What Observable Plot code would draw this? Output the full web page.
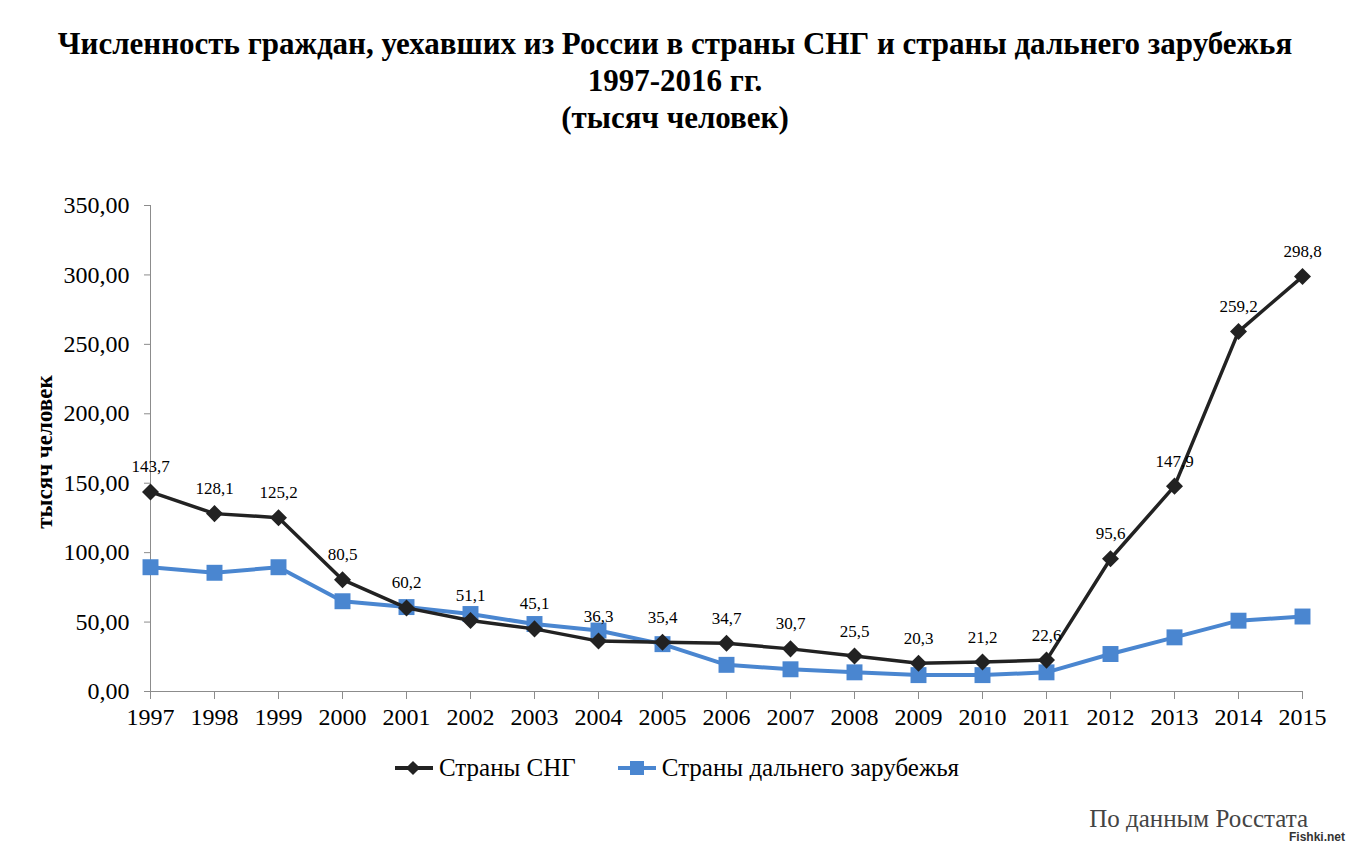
<!DOCTYPE html>
<html>
<head>
<meta charset="utf-8">
<script src="https://cdn.jsdelivr.net/npm/d3@7"></script>
<script src="https://cdn.jsdelivr.net/npm/@observablehq/plot@0.6"></script>
<style>
  html, body { margin: 0; padding: 0; background: #fff; }
  #root { position: relative; width: 1350px; height: 850px; font-family: "Liberation Serif", "Times New Roman", serif; color: #000; overflow: hidden; }
  .title { position: absolute; left: 0; width: 1350px; text-align: center; font-weight: bold; font-size: 31px; line-height: 1; }
  #chart { position: absolute; left: 0; top: 180px; }
  #chart svg, #chart svg text { font-family: "Liberation Serif", "Times New Roman", serif !important; }
  #ylabel { position: absolute; left: 45px; top: 452px; transform: translate(-50%, -50%) rotate(-90deg); font-weight: bold; font-size: 23px; white-space: nowrap; }
  #legend { position: absolute; top: 753px; left: 395px; display: flex; align-items: center; font-size: 25px; white-space: nowrap; }
  #legend .item { display: flex; align-items: center; margin-right: 42px; }
  #legend svg { margin-right: 6px; }
  #caption { position: absolute; right: 42px; top: 805px; font-size: 25px; color: #444; }
  #mark { position: absolute; right: 5px; top: 830px; font-family: "Liberation Sans", Arial, sans-serif; font-weight: bold; font-size: 12px; color: #333; }
</style>
</head>
<body>
<div id="root">
  <div class="title" style="top:28px">Численность граждан, уехавших из России в страны СНГ и страны дальнего зарубежья</div>
  <div class="title" style="top:65px">1997-2016 гг.</div>
  <div class="title" style="top:102px">(тысяч человек)</div>
  <div id="chart"></div>
  <div id="ylabel">тысяч человек</div>
  <div id="legend"></div>
  <div id="caption">По данным Росстата</div>
  <div id="mark">Fishki.net</div>
</div>
<script>
const years = [1997,1998,1999,2000,2001,2002,2003,2004,2005,2006,2007,2008,2009,2010,2011,2012,2013,2014,2015];
const cisValues = [143.7,128.1,125.2,80.5,60.2,51.1,45.1,36.3,35.4,34.7,30.7,25.5,20.3,21.2,22.6,95.6,147.9,259.2,298.8];
const farValues = [89.5,85.5,89.5,65,60.8,55.8,48.6,43.9,34.1,19.2,16,13.8,11.8,11.8,13.8,27,39,51,54];
const yTicks = [0,50,100,150,200,250,300,350];
const seriesNames = ["Страны СНГ", "Страны дальнего зарубежья"];

const cisColor = "#222222";
const farColor = "#4a86d0";

const cis = years.map((y, i) => ({year: y, value: cisValues[i]}));
const far = years.map((y, i) => ({year: y, value: farValues[i]}));
const fmt = v => v.toFixed(1).replace(".", ",");
const fmtTick = v => v.toFixed(2).replace(".", ",");

const chart = Plot.plot({
  width: 1350,
  height: 560,
  marginLeft: 150,
  marginRight: 48,
  marginTop: 25,
  marginBottom: 49,
  style: {fontFamily: "Liberation Serif, Times New Roman, serif", fontSize: "24px", color: "#000", background: "transparent"},
  x: {domain: [1997, 2015]},
  y: {domain: [0, 350]},
  marks: [
    Plot.ruleX([1997], {stroke: "#8c8c8c", strokeWidth: 1}),
    Plot.ruleY([0], {stroke: "#8c8c8c", strokeWidth: 1}),
    Plot.axisY({ticks: yTicks, tickFormat: fmtTick, tickSize: 6, tickPadding: 15, stroke: "#8c8c8c", label: null, fontSize: 24}),
    Plot.axisX({ticks: years, tickFormat: d => String(d), tickSize: 8, tickPadding: 8, stroke: "#8c8c8c", label: null, fontSize: 24}),
    Plot.line(far, {x: "year", y: "value", stroke: farColor, strokeWidth: 4}),
    Plot.dot(far, {x: "year", y: "value", symbol: "square", r: 9, fill: farColor, stroke: "none"}),
    Plot.line(cis, {x: "year", y: "value", stroke: cisColor, strokeWidth: 3.5}),
    Plot.dot(cis, {x: "year", y: "value", symbol: "square", rotate: 45, r: 6.8, fill: cisColor, stroke: "none"}),
    Plot.text(cis, {x: "year", y: "value", text: d => fmt(d.value), dy: -25, fontSize: 17, fill: "#000"})
  ]
});
document.getElementById("chart").appendChild(chart);

// legend
const legend = document.getElementById("legend");
const swatches = [
  {name: seriesNames[0], color: cisColor, shape: "diamond"},
  {name: seriesNames[1], color: farColor, shape: "square"}
];
for (const s of swatches) {
  const item = document.createElement("div");
  item.className = "item";
  const shape = s.shape === "diamond"
    ? `<rect x="13" y="10" width="10" height="10" fill="${s.color}" transform="rotate(45 18 15)"/>`
    : `<rect x="12" y="8" width="14" height="14" fill="${s.color}"/>`;
  item.innerHTML = `<svg width="38" height="30"><line x1="0" y1="15" x2="38" y2="15" stroke="${s.color}" stroke-width="4"/>${shape}</svg><span>${s.name}</span>`;
  legend.appendChild(item);
}
</script>
</body>
</html>
